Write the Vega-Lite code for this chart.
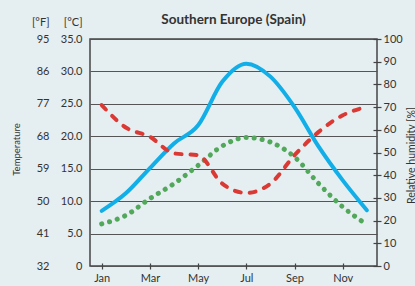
{
  "$schema": "https://vega.github.io/schema/vega-lite/v6.json",
  "autosize": {"type": "none"},
  "padding": {"left": 90, "top": 39, "right": 38, "bottom": 20},
  "width": 287,
  "height": 227,
  "background": "#e5eef1",
  "config": {
    "font": "Lato",
    "view": {"stroke": "#444", "strokeWidth": 1.5},
    "axis": {"labelFont": "Lato", "labelFontSize": 11, "labelColor": "#333", "titleFont": "Lato", "titleColor": "#333", "titleFontWeight": "normal", "labelOverlap": false, "labelFlush": false, "labelBound": false}
  },
  "title": {"text": "Southern Europe (Spain)", "fontSize": 13.5, "fontWeight": "bold", "color": "#333", "font": "Lato", "offset": 0, "dy": 10},
  "datasets": {
    "climate": [
      {"month": 1, "temperature": 8.5, "green_c": 6.5, "humidity": 70.9},
      {"month": 2, "temperature": 11.2, "green_c": 7.8, "humidity": 61.0},
      {"month": 3, "temperature": 15.1, "green_c": 10.4, "humidity": 56.9},
      {"month": 4, "temperature": 18.9, "green_c": 12.7, "humidity": 49.6},
      {"month": 5, "temperature": 21.7, "green_c": 15.5, "humidity": 48.8},
      {"month": 6, "temperature": 28.4, "green_c": 18.5, "humidity": 36.3},
      {"month": 7, "temperature": 31.2, "green_c": 19.8, "humidity": 32.2},
      {"month": 8, "temperature": 29.2, "green_c": 19.1, "humidity": 36.3},
      {"month": 9, "temperature": 24.5, "green_c": 16.8, "humidity": 48.8},
      {"month": 10, "temperature": 18.4, "green_c": 12.7, "humidity": 59.1},
      {"month": 11, "temperature": 13.2, "green_c": 9.1, "humidity": 66.4},
      {"month": 12, "temperature": 8.6, "green_c": 6.4, "humidity": 70.1}
    ],
    "fahrenheit": [{"f": 32}, {"f": 95}]
  },
  "layer": [
    {
      "data": {"name": "climate"},
      "encoding": {
        "x": {"field": "month", "type": "quantitative",
          "scale": {"domain": [0.515, 12.42], "nice": false, "zero": false},
          "axis": {"title": null, "values": [1,2,3,4,5,6,7,8,9,10,11,12], "domain": false, "grid": false,
            "offset": -3, "tickSize": 6, "tickColor": "#444", "tickWidth": 1.2, "labelPadding": 3,
            "labelExpr": "datum.value % 2 == 1 ? ['Jan','Feb','Mar','Apr','May','Jun','Jul','Aug','Sep','Oct','Nov','Dec'][datum.value - 1] : ''"}}
      },
      "layer": [
        {
          "mark": {"type": "line", "color": "#12aee8", "strokeWidth": 4, "strokeCap": "round", "interpolate": "monotone"},
          "encoding": {
            "y": {"field": "temperature", "type": "quantitative",
              "scale": {"domain": [0, 35], "nice": false, "zero": false},
              "axis": {"orient": "left", "values": [0,5,10,15,20,25,30,35], "domain": false, "ticks": false, "labelPadding": 8,
                "grid": true, "gridColor": "#555", "gridWidth": 1.2, "gridOpacity": 1,
                "labelExpr": "datum.value == 0 ? '0' : format(datum.value, '.1f')",
                "title": "[°C]", "titleAngle": 0, "titleAlign": "right", "titleBaseline": "alphabetic", "titleX": -8, "titleY": -14, "titleFontSize": 11}}
          }
        },
        {
          "mark": {"type": "line", "color": "#52a85a", "strokeWidth": 5, "strokeCap": "round", "strokeDash": [0.1, 8], "interpolate": "monotone"},
          "encoding": {
            "y": {"field": "green_c", "type": "quantitative",
              "scale": {"domain": [0, 35], "nice": false, "zero": false},
              "axis": {"orient": "left", "values": [0,5,10,15,20,25,30,35], "domain": false, "ticks": false, "labelPadding": 8,
                "grid": true, "gridColor": "#555", "gridWidth": 1.2, "gridOpacity": 1,
                "labelExpr": "datum.value == 0 ? '0' : format(datum.value, '.1f')",
                "title": "[°C]", "titleAngle": 0, "titleAlign": "right", "titleBaseline": "alphabetic", "titleX": -8, "titleY": -14, "titleFontSize": 11}}
          }
        }
      ]
    },
    {
      "data": {"name": "climate"},
      "mark": {"type": "line", "color": "#db3a34", "strokeWidth": 4, "strokeCap": "round", "strokeDash": [6, 9], "interpolate": "monotone"},
      "encoding": {
        "x": {"field": "month", "type": "quantitative"},
        "y": {"field": "humidity", "type": "quantitative",
          "scale": {"domain": [0, 100], "nice": false, "zero": false},
          "axis": {"orient": "right", "values": [0,10,20,30,40,50,60,70,80,90,100], "domain": false, "grid": false,
            "offset": -4, "tickSize": 8, "tickColor": "#444", "tickWidth": 1.2, "labelPadding": 2,
            "title": "Relative humidity [%]", "titleAngle": 270, "titleAlign": "center", "titleBaseline": "middle", "titleX": 38, "titleY": 116, "titleFontSize": 10.5}}
      }
    },
    {
      "data": {"name": "fahrenheit"},
      "mark": {"type": "point", "opacity": 0},
      "encoding": {
        "y": {"field": "f", "type": "quantitative",
          "scale": {"domain": [32, 95], "nice": false, "zero": false},
          "axis": {"orient": "left", "offset": 33, "values": [32,41,50,59,68,77,86,95], "domain": false, "ticks": false, "grid": false, "labelPadding": 8,
            "title": "[°F]", "titleAngle": 0, "titleAlign": "right", "titleBaseline": "alphabetic", "titleX": -8, "titleY": -14, "titleFontSize": 11}}
      }
    },
    {
      "data": {"name": "fahrenheit"},
      "mark": {"type": "point", "opacity": 0},
      "encoding": {
        "y": {"field": "f", "type": "quantitative",
          "scale": {"domain": [32, 95], "nice": false, "zero": false},
          "axis": {"orient": "left", "offset": 0, "labels": false, "domain": false, "ticks": false, "grid": false,
            "title": "Temperature", "titleAngle": 270, "titleAlign": "center", "titleBaseline": "middle", "titleX": -74, "titleY": 110, "titleFontSize": 9.5}}
      }
    }
  ],
  "resolve": {"scale": {"y": "independent"}}
}
